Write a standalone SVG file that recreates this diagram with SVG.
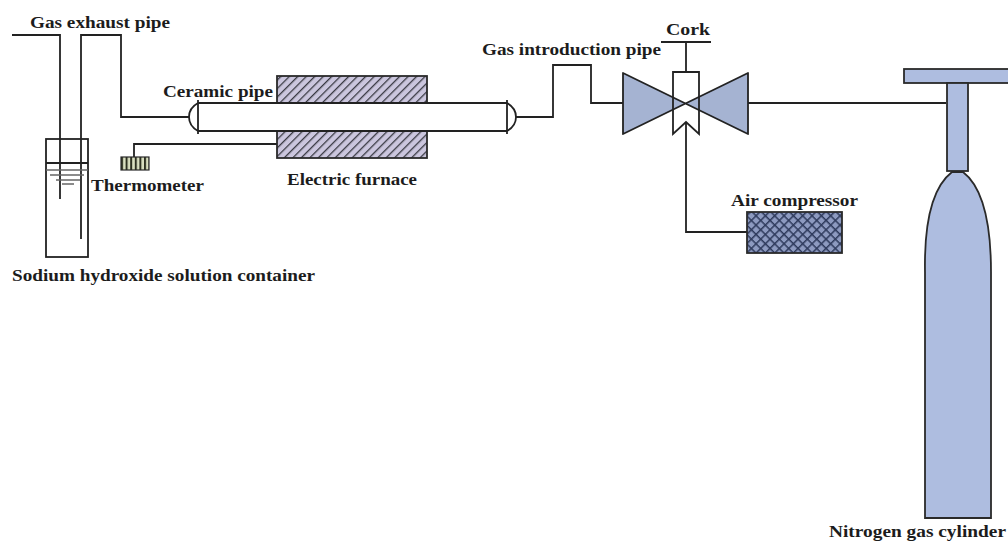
<svg xmlns="http://www.w3.org/2000/svg" width="1008" height="542" viewBox="0 0 1008 542">
<style>
.t{font-family:"Liberation Serif","Times New Roman",serif;font-weight:bold;font-size:17.5px;fill:#1c1c1c}
.l{fill:none;stroke:#222;stroke-width:1.8}
.g{fill:none;stroke:#666;stroke-width:1.3}
.o{stroke:#2a2a2a;stroke-width:1.8}
</style>
<defs>
<pattern id="hatch" width="6" height="6" patternUnits="userSpaceOnUse" patternTransform="rotate(45)">
<rect width="6" height="6" fill="#cbc6de"/><rect width="1.3" height="6" fill="#3a3a44"/>
</pattern>
<pattern id="mesh" width="6.6" height="6.6" patternUnits="userSpaceOnUse" patternTransform="rotate(45)">
<rect width="6.6" height="6.6" fill="#8d9ac0"/><rect width="1.5" height="6.6" fill="#2e3a5c"/><rect width="6.6" height="1.5" fill="#2e3a5c"/>
</pattern>
<pattern id="therm" width="4.6" height="13" patternUnits="userSpaceOnUse" x="121" y="157">
<rect width="4.6" height="13" fill="#d9dfc0"/><rect width="2" height="13" fill="#2c3020"/>
</pattern>
</defs>
<g id="connectors">
<path class="l" d="M12 35H60V199"/>
<path class="l" d="M81 239V35H121V117H189"/>
<path class="l" d="M134 157V144H277"/>
<path class="l" d="M516 117H553V65H591V103H624"/>
<path class="l" d="M748 103H946"/>
<path class="l" d="M686 122V232H747"/>
<path class="l" d="M686 72V42M661 42H711"/>
</g>
<g id="container">
<rect class="l" x="46" y="139" width="42" height="118"/>
<path class="l" d="M46 163H88"/>
<path class="g" d="M46 170H88M50 175H84M56 180H80M62 184H74"/>
</g>
<g id="thermometer">
<rect x="121" y="157" width="28" height="13" fill="url(#therm)" stroke="#2a2a2a" stroke-width="1.2"/>
</g>
<g id="furnace">
<rect class="o" x="277" y="76" width="150" height="27" fill="url(#hatch)"/>
<rect class="o" x="277" y="131" width="150" height="27" fill="url(#hatch)"/>
</g>
<g id="ceramic-pipe">
<path class="l" d="M198 103H507M198 131H507M198 100V134M507 100V134"/>
<path class="l" d="M198 103Q189 108 189 117Q189 126 198 131M507 103Q516 108 516 117Q516 126 507 131"/>
</g>
<g id="valve">
<path d="M623 73L748 134V73L623 134Z" fill="#a5b3d2"/>
<path d="M673 72H699V91L686 103L673 91Z" fill="#fff"/>
<path d="M673 115L686 103L699 115V134L686 122L673 134Z" fill="#fff"/>
<path class="l" stroke-linejoin="round" d="M623 73L748 134V73L623 134Z"/>
<path class="l" d="M673 72H699V134L686 122L673 134Z"/>
</g>
<g id="compressor">
<rect class="o" x="747" y="212" width="95" height="41" fill="url(#mesh)"/>
</g>
<g id="cylinder">
<rect class="o" x="904" y="69" width="110" height="14" fill="#aebde0"/>
<rect class="o" x="947" y="83" width="21" height="88" fill="#aebde0"/>
<path class="o" d="M925 518V272C924 215 935 185 952 172H963C980 185 991 215 991 272V518Z" fill="#aebde0"/>
</g>
<g id="labels">
<text class="t" x="30" y="28" textLength="140" lengthAdjust="spacingAndGlyphs">Gas exhaust pipe</text>
<text class="t" x="163" y="97" textLength="110" lengthAdjust="spacingAndGlyphs">Ceramic pipe</text>
<text class="t" x="91" y="191" textLength="113" lengthAdjust="spacingAndGlyphs">Thermometer</text>
<text class="t" x="287" y="185" textLength="130" lengthAdjust="spacingAndGlyphs">Electric furnace</text>
<text class="t" x="12" y="281" textLength="303" lengthAdjust="spacingAndGlyphs">Sodium hydroxide solution container</text>
<text class="t" x="482" y="55" textLength="179" lengthAdjust="spacingAndGlyphs">Gas introduction pipe</text>
<text class="t" x="666" y="35" textLength="44" lengthAdjust="spacingAndGlyphs">Cork</text>
<text class="t" x="731" y="206" textLength="127" lengthAdjust="spacingAndGlyphs">Air compressor</text>
<text class="t" x="829" y="537" textLength="177" lengthAdjust="spacingAndGlyphs">Nitrogen gas cylinder</text>
</g>
</svg>
